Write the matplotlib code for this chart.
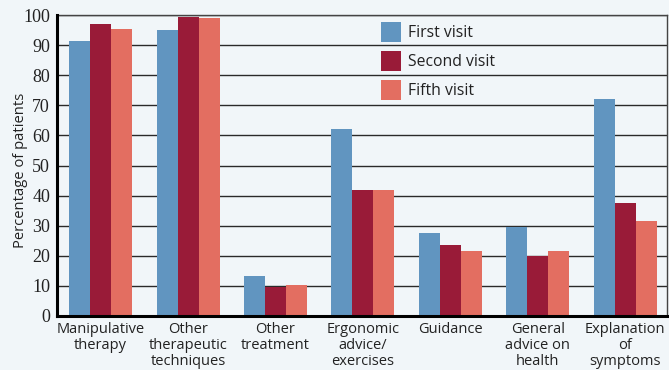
import matplotlib
matplotlib.use("Agg")
import matplotlib.pyplot as plt
import numpy as np

categories = ["Manipulative\ntherapy", "Other\ntherapeutic\ntechniques", "Other\ntreatment",
              "Ergonomic\nadvice/\nexercises", "Guidance", "General\nadvice on\nhealth",
              "Explanation\nof\nsymptoms"]
series_names = ["First visit", "Second visit", "Fifth visit"]
first_visit = [91.5, 95, 13.3, 62, 27.6, 29.5, 72]
second_visit = [97, 99.5, 9.8, 42, 23.6, 20, 37.6]
fifth_visit = [95.5, 99, 10.2, 42, 21.6, 21.6, 31.6]
yticks = [0, 10, 20, 30, 40, 50, 60, 70, 80, 90, 100]

colors = ["#6195c0", "#991b38", "#e36e61"]
bg = "#f1f6f9"
sans = ["Open Sans", "DejaVu Sans"]

fig = plt.figure(figsize=(6.69, 3.70), dpi=100, facecolor=bg)
ax = fig.add_axes([57/669, 1 - 316/370, (667-57)/669, (316-15)/370])
ax.set_facecolor(bg)

x = np.arange(len(categories))
w = 0.24
for i, (vals, name) in enumerate(zip([first_visit, second_visit, fifth_visit], series_names)):
    ax.bar(x + (i - 1) * w, vals, width=w, color=colors[i], label=name, zorder=3, linewidth=0)

ax.set_xlim(-0.5, 6.48)
ax.set_ylim(0, 100)
ax.set_yticks(yticks)
ax.set_yticklabels([str(t) for t in yticks], family="Liberation Serif", fontsize=13, color="#222222")
ax.yaxis.grid(True, color="#2a2a2a", linewidth=1.0, zorder=0)
ax.tick_params(axis="y", length=0, pad=5)
ax.tick_params(axis="x", length=0, pad=4.5)
ax.set_xticks(x)
ax.set_xticklabels(categories, fontsize=10.5, color="#222222", linespacing=1.08, family=sans)
ax.set_ylabel("Percentage of patients", fontsize=10.6, color="#222222", family=sans)
ax.yaxis.set_label_coords(-0.0475, 0.485)

for s in ["left", "bottom"]:
    ax.spines[s].set_linewidth(2.2)
    ax.spines[s].set_color("black")
    ax.spines[s].set_zorder(5)
for s in ["top", "right"]:
    ax.spines[s].set_linewidth(1.0)
    ax.spines[s].set_color("#444444")

leg = ax.legend(loc="upper left", bbox_to_anchor=(0.519, 1.0), frameon=False,
                prop={"family": sans, "size": 11.3}, handlelength=1.3, handleheight=1.56,
                labelspacing=0.58, handletextpad=0.45, borderaxespad=0.05)
for t in leg.get_texts():
    t.set_color("#222222")

fig.savefig("out.png", dpi=100, facecolor=bg)
